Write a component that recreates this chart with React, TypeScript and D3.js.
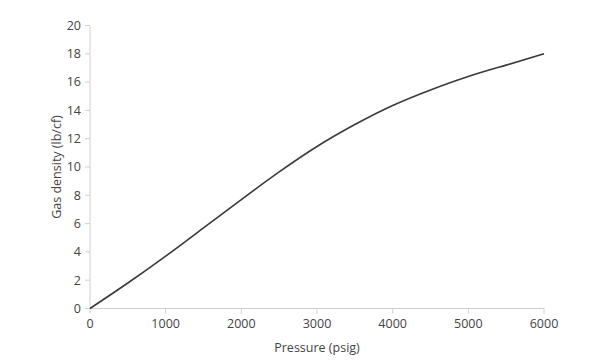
import React from "react";
import * as d3 from "d3";

const pressure = [0, 500, 1000, 1500, 2000, 2500, 3000, 3500, 4000, 4500, 5000, 5500, 6000];
const density = [0, 1.8, 3.7, 5.7, 7.7, 9.65, 11.45, 13.0, 14.35, 15.45, 16.4, 17.2, 18.0];
const xTicks = [0, 1000, 2000, 3000, 4000, 5000, 6000];
const yTicks = [0, 2, 4, 6, 8, 10, 12, 14, 16, 18, 20];

export default function App() {
  const W = 601, H = 364;
  const x = d3.scaleLinear().domain([0, 6000]).range([90, 544]);
  const y = d3.scaleLinear().domain([0, 20]).range([308.5, 25.5]);
  const pts = pressure.map((p, i) => [p, density[i]] as [number, number]);
  const line = d3.line<[number, number]>().x(d => x(d[0])).y(d => y(d[1])).curve(d3.curveNatural);
  const font = "'Open Sans', 'Liberation Sans', sans-serif";
  const axisColor = "#d0d0d0";
  const textColor = "#444444";
  return (
    <svg width={W} height={H} style={{ position: "absolute", left: 0, top: 0, background: "#fff" }}>
      <line x1={x(0)} x2={x(0)} y1={y(0)} y2={y(20)} stroke={axisColor} strokeWidth={1} />
      {yTicks.map(t => (
        <g key={"y" + t}>
          <line x1={x(0) - 5} x2={x(0)} y1={y(t)} y2={y(t)} stroke={axisColor} />
          <text x={x(0) - 9} y={y(t)} dy="0.35em" textAnchor="end" fontSize={12.5} fontFamily={font} fill={textColor}>{t}</text>
        </g>
      ))}
      <line x1={x(0)} x2={x(6000)} y1={y(0)} y2={y(0)} stroke={axisColor} strokeWidth={1} />
      {xTicks.map(t => (
        <g key={"x" + t}>
          <line x1={x(t)} x2={x(t)} y1={y(0)} y2={y(0) + 5} stroke={axisColor} />
          <text x={x(t)} y={y(0) + 19} textAnchor="middle" fontSize={12.5} fontFamily={font} fill={textColor}>{t}</text>
        </g>
      ))}
      <text x={317} y={352} textAnchor="middle" fontSize={12.5} fontFamily={font} fill={textColor}>Pressure (psig)</text>
      <text transform={`translate(61,${(y(0) + y(20)) / 2}) rotate(-90)`} textAnchor="middle" fontSize={12.5} fontFamily={font} fill={textColor}>Gas density (lb/cf)</text>
      <path d={line(pts) || ""} fill="none" stroke="#3a3a3a" strokeWidth={1.6} />
    </svg>
  );
}
